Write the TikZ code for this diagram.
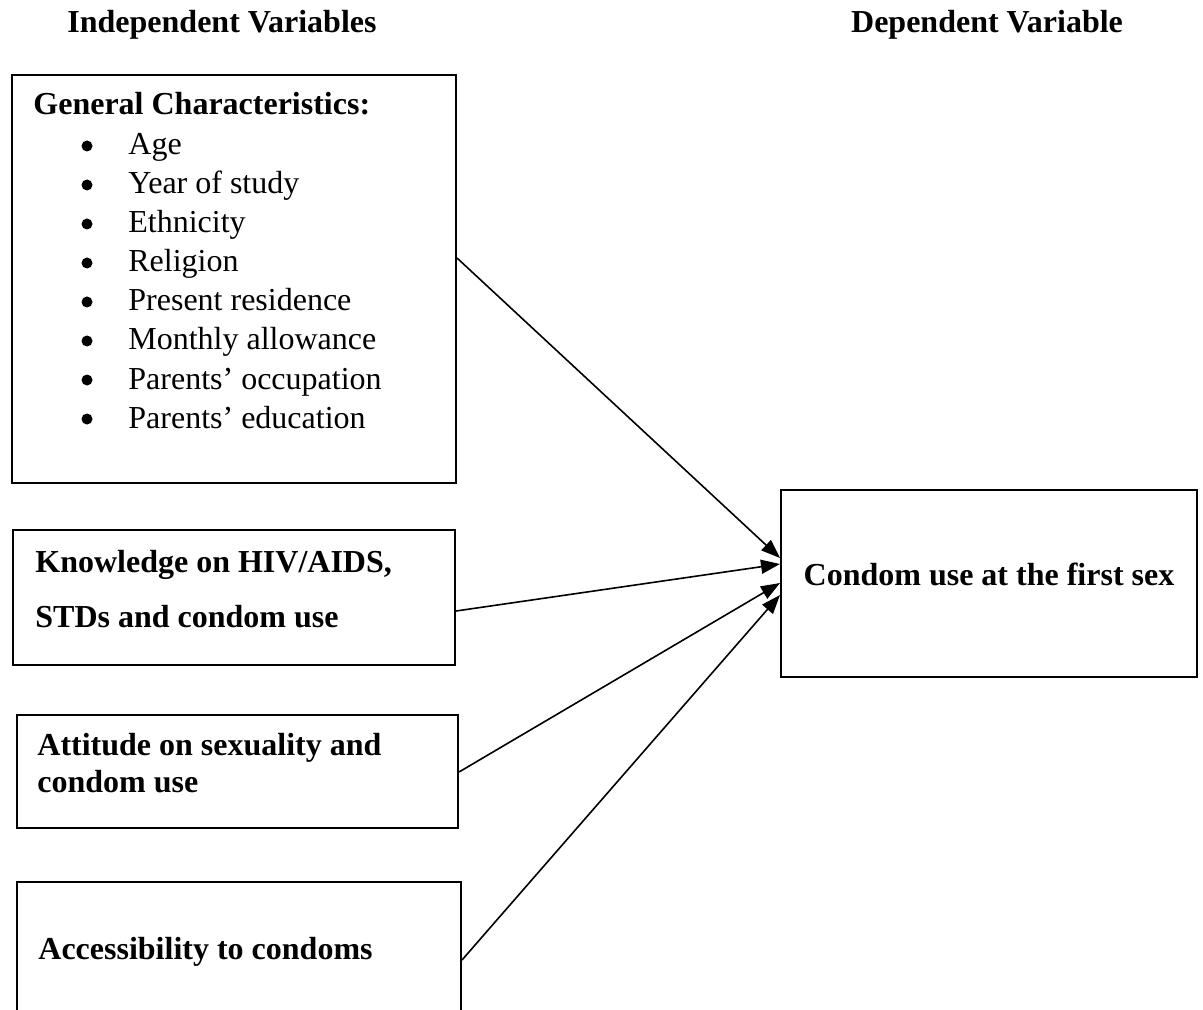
\documentclass[tikz,border=0pt]{standalone}
\usepackage{fontspec}
\setmainfont{Liberation Serif}
\usetikzlibrary{arrows.meta}

\tikzset{
  varbox/.style={draw, line width=1pt, inner sep=0pt},
  txt/.style={inner sep=0pt, font=\fontsize{16}{19.5}\selectfont},
  btxt/.style={txt, font=\fontsize{16}{19.5}\selectfont\bfseries},
  dotmark/.style={circle, fill, inner sep=0pt, minimum size=5.5pt},
  arr/.style={line width=0.8pt, -{Triangle[length=9.5pt,width=7pt]}}
}

\begin{document}
\begin{tikzpicture}[x=0.5pt,y=-0.5pt]
	\useasboundingbox (0,0) rectangle (1203,1010);
	\clip (0,0) rectangle (1203,1010);
	% headers
	\node[btxt, anchor=base] (indep) at (222,33) {Independent Variables};
	\node[btxt, anchor=base] (depvar) at (987,33) {Dependent Variable};
	% boxes
	\node[varbox, minimum width=222pt, minimum height=204pt] (gen) at (234,279) {};
	\node[varbox, minimum width=221pt, minimum height=67.5pt] (know) at (234,597.5) {};
	\node[varbox, minimum width=220.5pt, minimum height=56.5pt] (att) at (237.5,771.5) {};
	\node[varbox, minimum width=222pt, minimum height=74pt] (acc) at (239,956) {};
	\node[varbox, minimum width=208pt, minimum height=93.5pt] (dep) at (989,583.5) {};
	% texts
	\node[btxt, anchor=base west] (gentitle) at (33,115) {General Characteristics:};
	\foreach \item [count=\i] in {Age, Year of study, Ethnicity, Religion, Present residence,
	                              Monthly allowance, Parents' occupation, Parents' education}
	{
		\node[dotmark] (dot\i) at (87,{146+(\i-1)*39}) {};
		\node[txt, anchor=base west] (item\i) at (128,{155+(\i-1)*39}) {\item};
	}
	\node[btxt, anchor=base west] (know1) at (35,572) {Knowledge on HIV/AIDS,};
	\node[btxt, anchor=base west] (know2) at (35,627) {STDs and condom use};
	\node[btxt, anchor=base west] (att1) at (37,755) {Attitude on sexuality and};
	\node[btxt, anchor=base west] (att2) at (37,792) {condom use};
	\node[btxt, anchor=base west] (acctxt) at (38,959) {Accessibility to condoms};
	\node[btxt, anchor=base] (deptxt) at (989,585) {Condom use at the first sex};
	% arrows
	\draw[arr] (gen.east |- 0,258) -- (dep.west |- 0,558);
	\draw[arr] (know.east |- 0,611) -- (dep.west |- 0,564);
	\draw[arr] (att.east |- 0,772) -- (dep.west |- 0,583);
	\draw[arr] (acc.east |- 0,960) -- (dep.west |- 0,595);
\end{tikzpicture}
\end{document}
